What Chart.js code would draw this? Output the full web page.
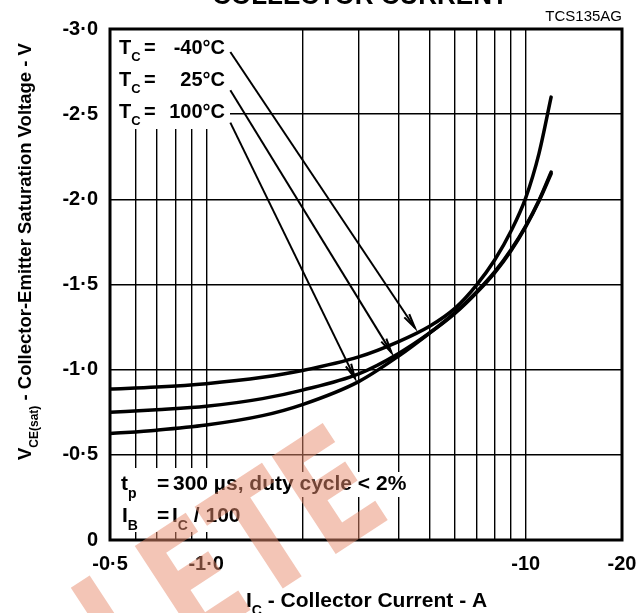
<!DOCTYPE html>
<html>
<head>
<meta charset="utf-8">
<script src="https://cdn.jsdelivr.net/npm/chart.js@4.4.0/dist/chart.umd.min.js"></script>
<style>
  body { margin: 0; background: #fff; }
  #chart { display: block; }
</style>
</head>
<body>
<canvas id="chart" width="639" height="613"></canvas>
<script>
// collector current magnitude (A) and VCE(sat) magnitude (V)
const currents = [0.5, 0.7, 1, 1.5, 2, 3, 4, 5, 6, 7, 8, 9, 10, 11, 12];
const vceMinus40 = [0.886, 0.898, 0.918, 0.955, 0.995, 1.075, 1.165, 1.255, 1.36, 1.495, 1.645, 1.815, 2.01, 2.27, 2.6];
const vce25 = [0.75, 0.765, 0.785, 0.83, 0.88, 0.975, 1.095, 1.215, 1.33, 1.45, 1.57, 1.7, 1.84, 1.99, 2.15];
const vce100 = [0.625, 0.645, 0.675, 0.73, 0.795, 0.93, 1.08, 1.215, 1.335, 1.455, 1.575, 1.705, 1.845, 1.995, 2.16];
const tempLabels = ["-40°C", "25°C", "100°C"];

const gridCurrents = [0.5, 0.6, 0.7, 0.8, 0.9, 1, 2, 3, 4, 5, 6, 7, 8, 9, 10, 20];
const xTickValues = [0.5, 1, 10, 20];
const xTickLabels = ["-0·5", "-1·0", "-10", "-20"];
const yTickValues = [0, 0.5, 1, 1.5, 2, 2.5, 3];
const yTickLabels = ["0", "-0·5", "-1·0", "-1·5", "-2·0", "-2·5", "-3·0"];

// arrows from each temperature label to its curve: [current, voltage]
const arrowFrom = [[1.19, 2.865], [1.19, 2.64], [1.19, 2.45]];
const arrowTo = [[4.5, 1.245], [3.8, 1.10], [2.92, 0.95]];

const FONT = "'Liberation Sans', Arial, Helvetica, sans-serif";

function drawParts(ctx, parts, x, y, size) {
  // parts: [text, isSub]
  let cx = x;
  parts.forEach(([t, sub]) => {
    ctx.font = "bold " + (sub ? Math.round(size * 0.66) : size) + "px " + FONT;
    ctx.fillText(t, cx, sub ? y + size * 0.36 : y);
    cx += ctx.measureText(t).width;
  });
  return cx - x;
}

function arrow(ctx, x1, y1, x2, y2) {
  ctx.beginPath();
  ctx.moveTo(x1, y1);
  ctx.lineTo(x2, y2);
  ctx.stroke();
  const a = Math.atan2(y2 - y1, x2 - x1);
  const len = 15, spread = 0.2;
  ctx.beginPath();
  ctx.moveTo(x2 - len * Math.cos(a - spread), y2 - len * Math.sin(a - spread));
  ctx.lineTo(x2, y2);
  ctx.lineTo(x2 - len * Math.cos(a + spread), y2 - len * Math.sin(a + spread));
  ctx.stroke();
}

const decor = {
  id: "decor",
  beforeDatasetsDraw(chart) {
    const { ctx, chartArea: ca } = chart;
    ctx.save();
    ctx.fillStyle = "#fff";
    // label panel top-left hides the grid
    ctx.fillRect(ca.left, ca.top, 120, 100);
    ctx.fillStyle = "#000";
    ctx.textBaseline = "alphabetic";
    tempLabels.forEach((lab, i) => {
      const y = ca.top + 25 + i * 32;
      ctx.textAlign = "left";
      drawParts(ctx, [["T", false], ["C", true]], ca.left + 9, y, 20);
      ctx.font = "bold 20px " + FONT;
      ctx.fillText("=", ca.left + 34, y);
      ctx.textAlign = "right";
      ctx.fillText(lab, ca.left + 115, y);
    });

    // test conditions, bottom-left
    ctx.textAlign = "left";
    const n1 = ca.bottom - 50, n2 = ca.bottom - 18;
    ctx.font = "bold 21px " + FONT;
    const w1 = ctx.measureText("300 µs, duty cycle < 2%").width;
    ctx.fillStyle = "#fff";
    ctx.fillRect(ca.left, n1 - 18, 63 + w1 + 6, 25);
    ctx.fillRect(ca.left, n1 - 22, 136, 64);
    ctx.fillStyle = "#000";
    drawParts(ctx, [["t", false], ["p", true]], ca.left + 11, n1, 21);
    ctx.font = "bold 21px " + FONT;
    ctx.fillText("=", ca.left + 47, n1);
    ctx.fillText("300 µs, duty cycle < 2%", ca.left + 63, n1);
    drawParts(ctx, [["I", false], ["B", true]], ca.left + 12, n2, 21);
    ctx.font = "bold 21px " + FONT;
    ctx.fillText("=", ca.left + 47, n2);
    drawParts(ctx, [["I", false], ["C", true], [" / 100", false]], ca.left + 62, n2, 21);
    ctx.restore();
  },
  afterDatasetsDraw(chart) {
    const { ctx, chartArea: ca, scales: { x, y } } = chart;
    ctx.save();
    // arrows
    ctx.strokeStyle = "#000";
    ctx.lineWidth = 2;
    arrowFrom.forEach((f, i) => {
      const t = arrowTo[i];
      arrow(ctx, x.getPixelForValue(f[0]), y.getPixelForValue(f[1]),
        x.getPixelForValue(t[0]), y.getPixelForValue(t[1]));
    });
    // frame
    ctx.lineWidth = 3;
    ctx.strokeRect(ca.left, ca.top, ca.right - ca.left, ca.bottom - ca.top);

    // tick labels
    ctx.fillStyle = "#000";
    ctx.font = "bold 20px " + FONT;
    ctx.textAlign = "right";
    ctx.textBaseline = "middle";
    yTickValues.forEach((v, i) => ctx.fillText(yTickLabels[i], ca.left - 12, y.getPixelForValue(v)));
    ctx.textAlign = "center";
    xTickValues.forEach((v, i) => ctx.fillText(xTickLabels[i], x.getPixelForValue(v), ca.bottom + 24));

    // axis titles
    ctx.textBaseline = "alphabetic";
    ctx.textAlign = "left";
    drawParts(ctx, [["I", false], ["C", true], [" - Collector Current - A", false]], 246, 607, 21);
    ctx.save();
    ctx.translate(31, 460);
    ctx.rotate(-Math.PI / 2);
    drawParts(ctx, [["V", false], ["CE(sat)", true], [" - Collector-Emitter Saturation Voltage - V", false]], 0, 0, 18.5);
    ctx.restore();

    // figure code and (cropped) title
    ctx.font = "15px " + FONT;
    ctx.textAlign = "right";
    ctx.fillText("TCS135AG", ca.right, 21);
    ctx.font = "bold 26px " + FONT;
    ctx.textAlign = "center";
    ctx.fillText("COLLECTOR CURRENT", 360, 4);

    // watermark
    ctx.save();
    ctx.translate(395, 515);
    ctx.rotate(-0.58);
    ctx.scale(0.75, 1);
    ctx.font = "bold 160px 'DejaVu Sans', sans-serif";
    ctx.textAlign = "right";
    ctx.fillStyle = "rgba(232, 140, 110, 0.5)";
    ctx.fillText("OBSOLETE", 0, 0);
    ctx.restore();
    ctx.restore();
  }
};

const seriesData = [vceMinus40, vce25, vce100];

new Chart(document.getElementById("chart"), {
  type: "line",
  data: {
    datasets: seriesData.map((vals, i) => ({
      label: tempLabels[i],
      data: currents.map((c, j) => ({ x: c, y: vals[j] })),
      borderColor: "#000",
      borderWidth: 3.5,
      borderCapStyle: "round",
      pointRadius: 0,
      cubicInterpolationMode: "monotone",
      fill: false
    }))
  },
  options: {
    responsive: false,
    animation: false,
    layout: { padding: { left: 110, right: 17, top: 29, bottom: 73 } },
    plugins: { legend: { display: false }, tooltip: { enabled: false } },
    scales: {
      x: {
        type: "logarithmic",
        min: 0.5,
        max: 20,
        afterBuildTicks: (s) => { s.ticks = gridCurrents.map((v) => ({ value: v })); },
        ticks: { display: false },
        grid: { color: "#000", lineWidth: 1.4, drawTicks: false },
        border: { display: false }
      },
      y: {
        min: 0,
        max: 3,
        ticks: { display: false, stepSize: 0.5 },
        grid: { color: "#000", lineWidth: 1.4, drawTicks: false },
        border: { display: false }
      }
    }
  },
  plugins: [decor]
});
</script>
</body>
</html>
